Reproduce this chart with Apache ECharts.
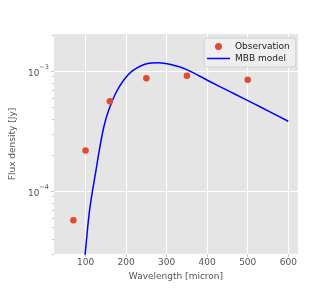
<!DOCTYPE html>
<html>
<head>
<meta charset="utf-8">
<script src="https://cdn.jsdelivr.net/npm/echarts@6/dist/echarts.min.js"></script>
<style>html,body{margin:0;padding:0;background:#fff}#c{width:332px;height:291px}</style>
</head>
<body>
<div id="c"></div>
<script>
// Observations
var obsWavelength = [70, 100, 160, 250, 350, 500];
var obsFlux = [5.73e-5, 2.18e-4, 5.62e-4, 8.74e-4, 9.14e-4, 8.47e-4];
// MBB model curve
var modelWavelength = [97, 99, 105, 110, 117, 125, 134, 145, 157, 174, 194, 218, 253, 280, 310, 347, 410, 450, 488, 520, 550, 600];
var modelFlux = [2.6e-5, 3.0e-5, 4.9e-5, 6.95e-5, 1.0e-4, 1.44e-4, 2.2e-4, 3.43e-4, 4.73e-4, 6.52e-4, 8.41e-4, 1.019e-3, 1.159e-3, 1.175e-3, 1.135e-3, 1.04e-3, 8.09e-4, 6.92e-4, 5.97e-4, 5.26e-4, 4.67e-4, 3.83e-4];
// Log-axis minor tick values
var yMinorTicks = [3e-5, 4e-5, 5e-5, 6e-5, 7e-5, 8e-5, 9e-5, 2e-4, 3e-4, 4e-4, 5e-4, 6e-4, 7e-4, 8e-4, 9e-4, 2e-3];
var seriesNames = ['Observation', 'MBB model'];
var xTitle = 'Wavelength [micron]';
var yTitle = 'Flux density [Jy]';

var obsData = obsWavelength.map(function (w, i) { return [w, obsFlux[i]]; });
var modelData = modelWavelength.map(function (w, i) { return [w, modelFlux[i]]; });

var font = 'DejaVu Sans';
var tickColor = '#c4c4c4';
var chart = echarts.init(document.getElementById('c'), null, {renderer: 'canvas'});
chart.setOption({
  animation: false,
  backgroundColor: '#ffffff',
  grid: {left: 42, right: 34, top: 34, bottom: 37, show: true, backgroundColor: '#E5E5E5', borderWidth: 0},
  legend: {
    orient: 'vertical', left: 204, top: 38, width: 90,
    backgroundColor: 'rgba(240,240,240,0.9)', borderColor: '#d0d0d0', borderWidth: 1, borderRadius: 3,
    padding: [4, 6, 4, 3], itemGap: 3, itemWidth: 23, itemHeight: 7,
    textStyle: {fontFamily: font, fontSize: 9, color: '#222'},
    data: [
      {name: seriesNames[0], icon: 'circle'},
      {name: seriesNames[1], icon: 'path://M0,0 L23,0 L23,1.5 L0,1.5 Z'}
    ]
  },
  xAxis: {
    type: 'value', min: 22, max: 624, minInterval: 100, maxInterval: 100,
    name: xTitle, nameLocation: 'middle', nameGap: 11,
    nameTextStyle: {fontFamily: font, fontSize: 9, color: '#555'},
    axisLine: {show: false},
    axisTick: {show: true, length: 3, lineStyle: {color: tickColor}},
    axisLabel: {fontFamily: font, fontSize: 9, color: '#555', margin: 4, showMinLabel: false, showMaxLabel: false,
      formatter: function (v) { return (v % 100 === 0) ? String(v) : ''; }},
    splitLine: {show: true, showMinLine: false, showMaxLine: false, lineStyle: {color: '#ffffff', width: 1}}
  },
  yAxis: [{
    type: 'log', logBase: 10, min: 3e-5, max: 2.04e-3,
    name: yTitle, nameLocation: 'middle', nameGap: 28, nameRotate: 90,
    nameTextStyle: {fontFamily: font, fontSize: 9, color: '#555'},
    axisLine: {show: false},
    axisTick: {show: true, length: 3, lineStyle: {color: tickColor}},
    axisLabel: {
      fontFamily: font, fontSize: 9, color: '#555', margin: 5, showMinLabel: false, showMaxLabel: false,
      formatter: function (v) {
        var e = Math.log10(v); var r = Math.round(e);
        if (Math.abs(e - r) > 1e-6) return '';
        return '{b|10}{s|\u2212' + (-r) + '}';
      },
      rich: {
        b: {fontFamily: font, fontSize: 9, color: '#555', lineHeight: 14, verticalAlign: 'bottom'},
        s: {fontFamily: font, fontSize: 6.5, color: '#555', lineHeight: 14, verticalAlign: 'top'}
      }
    },
    splitLine: {show: true, showMinLine: false, showMaxLine: false, lineStyle: {color: '#ffffff', width: 1}}
  }, {
    type: 'log', logBase: 10, min: 3e-5, max: 2.04e-3, position: 'left',
    axisLine: {show: false},
    axisTick: {show: true, length: 2, customValues: yMinorTicks, lineStyle: {color: tickColor}},
    axisLabel: {show: false},
    splitLine: {show: false}
  }],
  series: [
    {name: seriesNames[0], type: 'scatter', data: obsData, symbol: 'circle', symbolSize: 6.5,
      itemStyle: {color: '#E24A33', opacity: 1}, z: 3},
    {name: seriesNames[1], type: 'line', data: modelData, symbol: 'none', smooth: 0.3, clip: true,
      lineStyle: {color: '#0000FF', width: 1.5}, itemStyle: {color: '#0000FF'}, z: 2}
  ]
});
</script>
</body>
</html>
